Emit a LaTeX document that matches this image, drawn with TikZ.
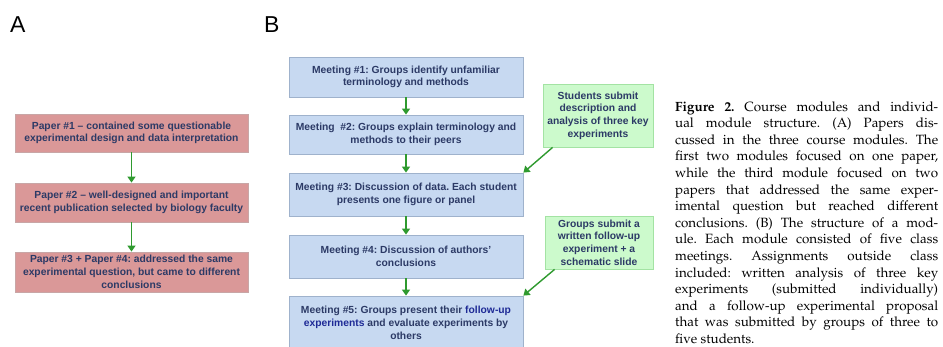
\documentclass[tikz,border=0pt]{standalone}
\usepackage{fontspec}
\setmainfont{Liberation Sans}
\usetikzlibrary{arrows.meta}
\definecolor{boxtext}{HTML}{2C3A66}
\definecolor{hilite}{HTML}{1E2A96}
\definecolor{pinkfill}{HTML}{DA9898}
\definecolor{pinkline}{HTML}{C8A6A6}
\definecolor{bluefill}{HTML}{C7D9F1}
\definecolor{blueline}{HTML}{9FB2CC}
\definecolor{greenfill}{HTML}{CCFACC}
\definecolor{greenline}{HTML}{A3E3A3}
\definecolor{arrowgreen}{HTML}{2F9A2F}
\newcommand\capfont{\fontencoding{T1}\fontfamily{ppl}\fontsize{13.4}{16.6}\selectfont}
% one justified caption line, filling the column
\newcommand\capline[1]{\hbox to 263pt{#1}}
\tikzset{
  box/.style={draw, line width=0.8pt, align=center, text=boxtext, inner sep=1pt,
    font=\bfseries\fontsize{10.3}{12.7}\selectfont},
  paperbox/.style={box, fill=pinkfill, draw=pinkline, minimum width=233pt},
  meetbox/.style={box, fill=bluefill, draw=blueline, minimum width=234pt},
  notebox/.style={box, fill=greenfill, draw=greenline},
  flow/.style={draw=arrowgreen, line width=1.4pt, -{Triangle[length=6pt,width=8pt]}},
  panel/.style={font=\fontsize{23}{23}\selectfont, anchor=north west, inner sep=0pt},
  capt/.style={anchor=base west, inner sep=0pt, font=\capfont}
}
\begin{document}
\frenchspacing
\begin{tikzpicture}[x=1pt, y=-1pt]
\useasboundingbox[fill=white] (0,0) rectangle (943,346);
\begin{scope}
\clip (0,0) rectangle (943,346);

% panel labels
\node[panel] (labA) at (10,16) {A};
\node[panel] (labB) at (264,16) {B};

% panel A: the papers of the three modules
\node[paperbox, minimum height=38pt] (a1) at (131.5,133)
  {Paper \#1 – contained some questionable\\experimental design and data interpretation};
\node[paperbox, minimum height=39pt] (a2) at (131.5,202.5)
  {Paper \#2 – well-designed and important\\recent publication selected by biology faculty};
\node[paperbox, minimum height=40pt] (a3) at (131.5,272)
  {Paper \#3 + Paper \#4: addressed the same\\experimental question, but came to different\\conclusions};
\draw[flow] (a1) -- (a2);
\draw[flow] (a2) -- (a3);

% panel B: the five meetings of a module
\node[meetbox, minimum height=40pt] (m1) at (406,77)
  {Meeting \#1: Groups identify unfamiliar\\terminology and methods};
\node[meetbox, minimum height=39pt] (m2) at (406,134.5)
  {Meeting~ \#2: Groups explain terminology and\\methods to their peers};
\node[meetbox, minimum height=43pt] (m3) at (406,194.5)
  {Meeting \#3: Discussion of data. Each student\\presents one figure or panel};
\node[meetbox, minimum height=43pt] (m4) at (406,256.5)
  {Meeting \#4: Discussion of authors'\\conclusions};
\node[meetbox, minimum height=54pt] (m5) at (406,323)
  {Meeting \#5: Groups present their \textcolor{hilite}{follow-up}\\\textcolor{hilite}{experiments} and evaluate experiments by\\others};
\draw[flow] (m1) -- (m2);
\draw[flow] (m2) -- (m3);
\draw[flow] (m3) -- (m4);
\draw[flow] (m4) -- (m5);

% assignments handed in outside class
\node[notebox, minimum width=110pt, minimum height=63pt] (g1) at (598,115.5)
  {Students submit\\description and\\analysis of three key\\experiments};
\node[notebox, minimum width=108pt, minimum height=53pt] (g2) at (599,242.5)
  {Groups submit a\\written follow-up\\experiment + a\\schematic slide};
\draw[flow] ([xshift=10pt]g1.south west) -- (m3.north east);
\draw[flow] ([xshift=10pt]g2.south west) -- (m5.north east);

% caption, set line by line in a justified column
\node[capt] (c1)  at (675,111.0) {\capline{\textbf{Figure 2.} Course modules and individ-}};
\node[capt] (c2)  at (675,127.6) {\capline{ual module structure. (A) Papers dis-}};
\node[capt] (c3)  at (675,144.2) {\capline{cussed in the three course modules. The}};
\node[capt] (c4)  at (675,160.8) {\capline{first two modules focused on one paper,}};
\node[capt] (c5)  at (675,177.4) {\capline{while the third module focused on two}};
\node[capt] (c6)  at (675,194.0) {\capline{papers that addressed the same exper-}};
\node[capt] (c7)  at (675,210.6) {\capline{imental question but reached different}};
\node[capt] (c8)  at (675,227.2) {\capline{conclusions. (B) The structure of a mod-}};
\node[capt] (c9)  at (675,243.8) {\capline{ule. Each module consisted of five class}};
\node[capt] (c10) at (675,260.4) {\capline{meetings. Assignments outside class}};
\node[capt] (c11) at (675,277.0) {\capline{included: written analysis of three key}};
\node[capt] (c12) at (675,293.6) {\capline{experiments (submitted individually)}};
\node[capt] (c13) at (675,310.2) {\capline{and a follow-up experimental proposal}};
\node[capt] (c14) at (675,326.8) {\capline{that was submitted by groups of three to}};
\node[capt] (c15) at (675,343.4) {five students.};
\end{scope}
\end{tikzpicture}
\end{document}
